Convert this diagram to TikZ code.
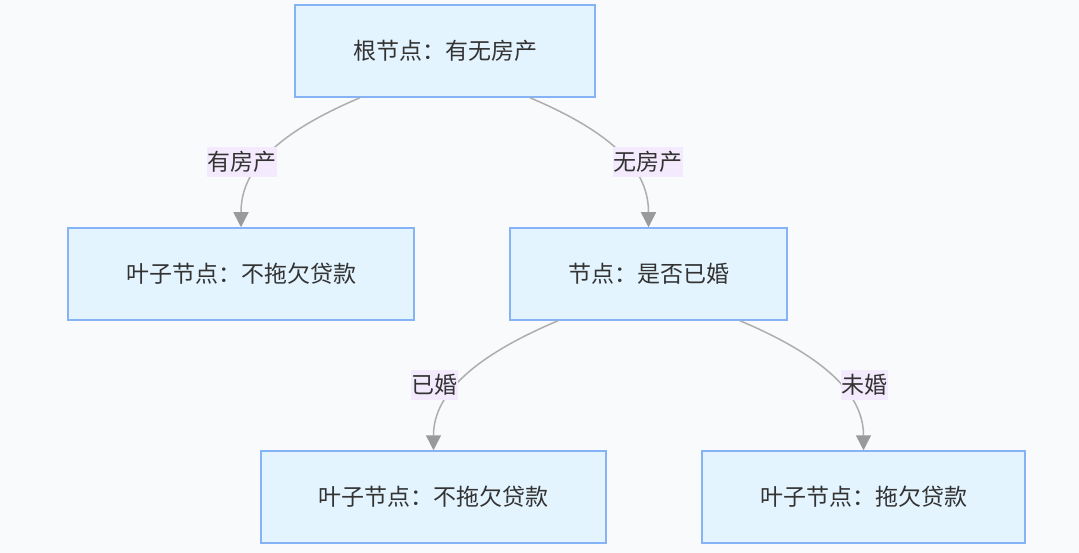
\documentclass[tikz,border=0pt]{standalone}
\usepackage{fontspec}
\setmainfont{Noto Sans CJK SC}
\usetikzlibrary{arrows.meta,calc}
\definecolor{bg}{HTML}{F9FAFC}
\definecolor{boxfill}{HTML}{E4F4FE}
\definecolor{boxdraw}{HTML}{86B2F6}
\definecolor{lblfill}{HTML}{F4EAFD}
\definecolor{txt}{HTML}{333333}
\definecolor{edge}{HTML}{AEAEAE}
\definecolor{tip}{HTML}{9A9A9A}
\tikzset{
  box/.style={draw=boxdraw, fill=boxfill, line width=1.5pt, minimum height=92pt, text=txt, font=\fontsize{23}{27}\selectfont, inner sep=0pt},
  lbl/.style={fill=lblfill, text=txt, font=\fontsize{23}{27}\selectfont, inner xsep=0.5pt, inner ysep=4.5pt},
  conn/.style={draw=edge, line width=1.5pt, -{Triangle[width=15pt,length=15pt,fill=tip,color=tip]}},
}
\begin{document}
\begin{tikzpicture}[x=1pt,y=-1pt]
\fill[bg] (0,0) rectangle (1079,553);
\useasboundingbox (0,0) rectangle (1079,553);
\node[box, minimum width=300pt] (root) at (445,51) {根节点：有无房产};
\node[box, minimum width=346pt] (leafA) at (241,274) {叶子节点：不拖欠贷款};
\node[box, minimum width=277pt] (mid) at (648.5,274) {节点：是否已婚};
\node[box, minimum width=345pt] (leafB) at (433.5,497) {叶子节点：不拖欠贷款};
\node[box, minimum width=323pt] (leafC) at (863.5,497) {叶子节点：拖欠贷款};

\coordinate (r1) at ($(root.south)+(-85,0)$);
\coordinate (r2) at ($(root.south)+(85,0)$);
\coordinate (m1) at ($(mid.south)+(-90.5,0)$);
\coordinate (m2) at ($(mid.south)+(91.5,0)$);

\draw[conn] (r1) .. controls (260,140) and (241,180) .. (leafA.north);
\draw[conn] (r2) .. controls (630,140) and (648.5,180) .. (mid.north);
\draw[conn] (m1) .. controls (458,363) and (433.5,403) .. (leafB.north);
\draw[conn] (m2) .. controls (840,363) and (863.5,403) .. (leafC.north);

\node[lbl] (l1) at (241.5,162) {有房产};
\node[lbl] (l2) at (648,162) {无房产};
\node[lbl] (l3) at (434,385) {已婚};
\node[lbl] (l4) at (864,385) {未婚};
\end{tikzpicture}
\end{document}
